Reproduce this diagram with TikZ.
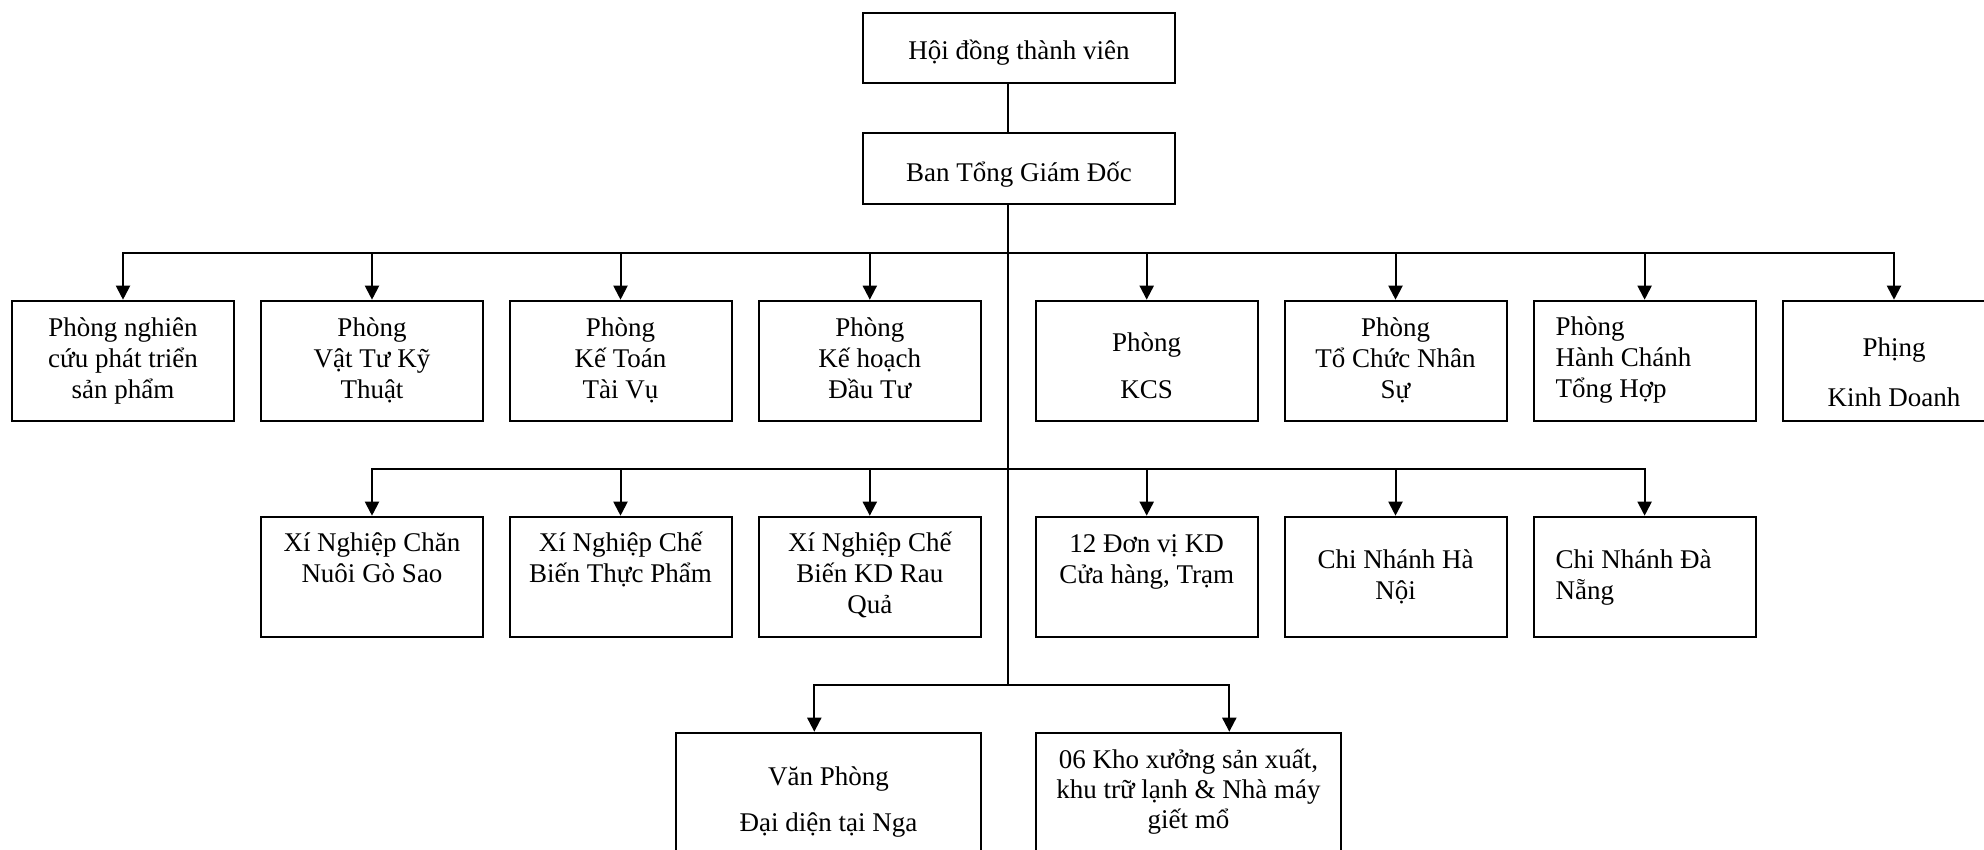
\documentclass[tikz,border=0pt]{standalone}
\usepackage{fontspec}
\setmainfont{Liberation Serif}
\usetikzlibrary{arrows.meta}
\lineskiplimit=-100pt
\newcommand\bxt[5]{\parbox[c][#1][t]{#2}{#3\vspace*{#4}\rule{0pt}{25pt}#5\par}}
\begin{document}
\begin{tikzpicture}[x=1pt,y=-1pt,
  font=\fontsize{27}{31}\selectfont,
  bx/.style={draw,line width=2pt,inner sep=0pt},
  ln/.style={line width=2pt},
  bus/.style={line width=2pt,line cap=rect},
  arr/.style={line width=2pt,-{Triangle[length=14pt,width=14pt]}}]
\useasboundingbox (0,0) rectangle (1984,849);
% top
\node[bx] (hoi) at (1018.9,47.9) {\bxt{70.3pt}{312.3pt}{\centering}{22pt}{Hội đồng thành viên}};
\node[bx] (ban) at (1018.9,168.4) {\bxt{71.3pt}{312.3pt}{\centering}{24pt}{Ban Tổng Giám Đốc}};
% row 1
\node[bx] (p1) at (123,361) {\bxt{120.6pt}{222pt}{\centering}{11pt}{Phòng nghiên\\cứu phát triển\\sản phẩm}};
\node[bx] (p2) at (372,361) {\bxt{120.6pt}{222pt}{\centering}{11pt}{Phòng\\Vật Tư Kỹ\\Thuật}};
\node[bx] (p3) at (620.5,361) {\bxt{120.6pt}{222pt}{\centering}{11pt}{Phòng\\Kế Toán\\Tài Vụ}};
\node[bx] (p4) at (869.8,361) {\bxt{120.6pt}{222pt}{\centering}{11pt}{Phòng\\Kế hoạch\\Đầu Tư}};
\node[bx] (p5) at (1146.7,361) {\bxt{120.6pt}{222pt}{\centering}{26pt}{Phòng\\[16pt]KCS}};
\node[bx] (p6) at (1395.5,361) {\bxt{120.6pt}{222pt}{\centering}{11pt}{Phòng\\Tổ Chức Nhân\\Sự}};
\node[bx] (p7) at (1644.6,361) {\bxt{120.6pt}{222pt}{\raggedright\leftskip=22pt}{10pt}{Phòng\\Hành Chánh\\Tổng Hợp}};
\node[bx] (p8) at (1894,361) {\bxt{120.6pt}{222pt}{\centering}{30.5pt}{Phịng\\[19pt]Kinh Doanh}};
% row 2
\node[bx] (x1) at (372,577) {\bxt{120.6pt}{222pt}{\centering}{10pt}{Xí Nghiệp Chăn\\Nuôi Gò Sao}};
\node[bx] (x2) at (620.5,577) {\bxt{120.6pt}{222pt}{\centering}{10pt}{Xí Nghiệp Chế\\Biến Thực Phẩm}};
\node[bx] (x3) at (869.8,577) {\bxt{120.6pt}{222pt}{\centering}{10pt}{Xí Nghiệp Chế\\Biến KD Rau\\Quả}};
\node[bx] (d1) at (1146.7,577) {\bxt{120.6pt}{222pt}{\centering}{10.7pt}{12 Đơn vị KD\\Cửa hàng, Trạm}};
\node[bx] (c1) at (1395.5,577) {\bxt{120.6pt}{222pt}{\centering}{26.7pt}{Chi Nhánh Hà\\Nội}};
\node[bx] (c2) at (1644.6,577) {\bxt{120.6pt}{222pt}{\raggedright\leftskip=22pt}{26.7pt}{Chi Nhánh Đà\\Nẵng}};
% row 3
\node[bx] (v1) at (828.5,812.7) {\bxt{160pt}{305pt}{\centering}{27.3pt}{Văn Phòng\\[15.7pt]Đại diện tại Nga}};
\node[bx] (k1) at (1188.5,812.7) {\bxt{160pt}{305pt}{\centering}{10.6pt}{06 Kho xưởng sản xuất,\\[-1pt]khu trữ lạnh \& Nhà máy\\[-1pt]giết mổ}};
% connectors
\coordinate (tr) at (1008,0);
\draw[ln] (hoi.south -| tr) -- (ban.north -| tr);
\coordinate (j3) at (1008,685);
\draw[ln] (ban.south -| tr) -- (j3);
\coordinate (b1) at (1008,253);
\draw[bus] (b1 -| p1) -- (b1 -| p8);
\foreach \n in {p1,p2,p3,p4,p5,p6,p7,p8} \draw[arr] (b1 -| \n) -- (\n);
\coordinate (b2) at (1008,469);
\draw[bus] (b2 -| x1) -- (b2 -| c2);
\foreach \n in {x1,x2,x3,d1,c1,c2} \draw[arr] (b2 -| \n) -- (\n);
\coordinate (l3) at (814.3,685);
\coordinate (r3) at (1229.3,685);
\draw[bus] (l3) -- (r3);
\draw[arr] (l3) -- (l3 |- v1.north);
\draw[arr] (r3) -- (r3 |- k1.north);
\end{tikzpicture}
\end{document}
